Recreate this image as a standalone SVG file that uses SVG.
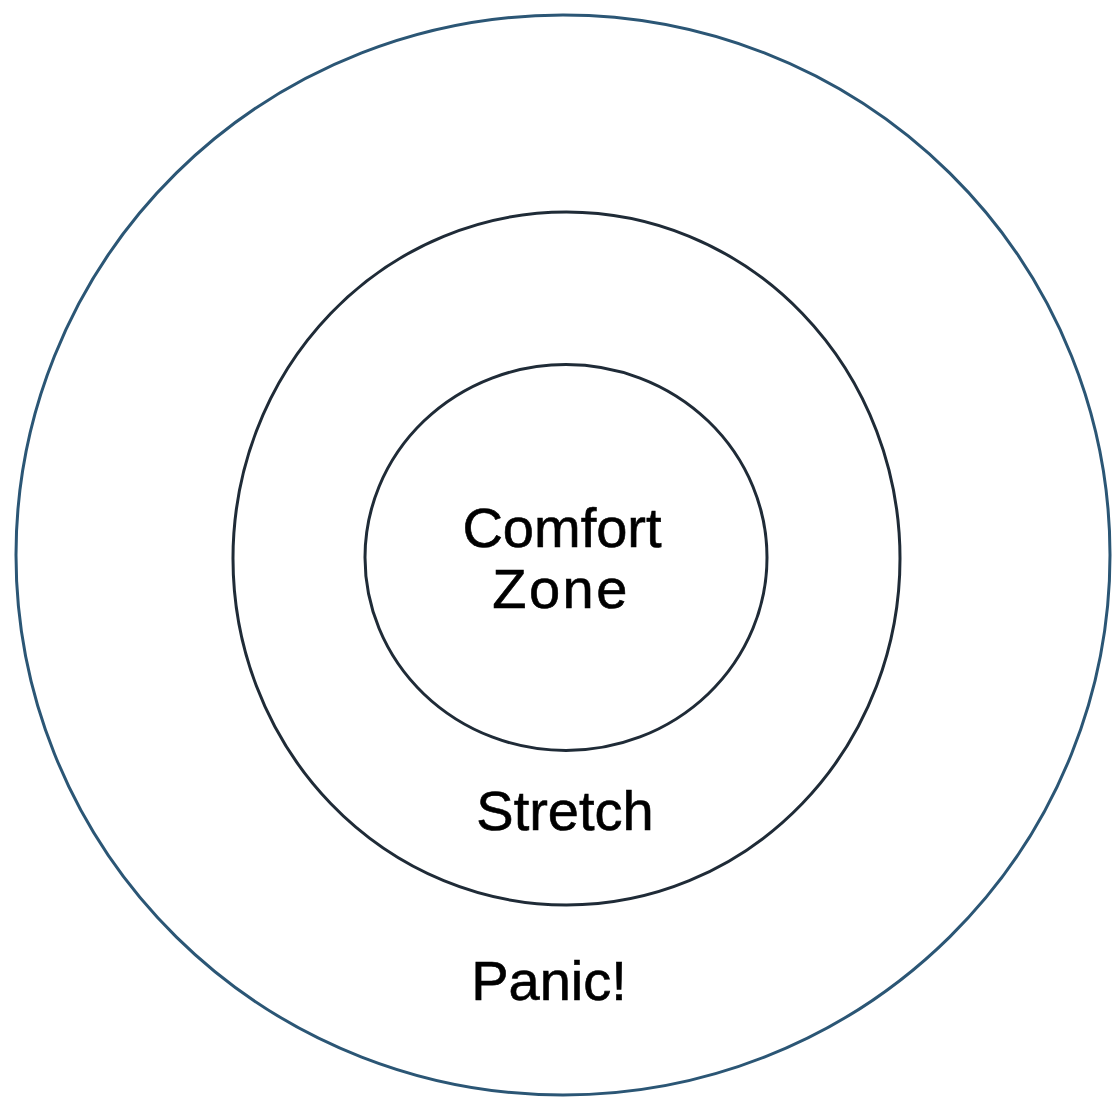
<svg xmlns="http://www.w3.org/2000/svg" width="1112" height="1099" viewBox="0 0 1112 1099">
<style>
.ring{fill:none;stroke-width:3}
.outer{stroke:#2b5675}
.dark{stroke:#1f2b37}
text{font-family:"Liberation Sans",Arial,sans-serif;font-size:56px;fill:#000;stroke:#000;stroke-width:0.6;text-anchor:middle}
</style>
<rect width="1112" height="1099" fill="#ffffff"/>
<g id="panic">
<ellipse class="ring outer" cx="563" cy="555" rx="547" ry="540"/>
<text x="549" y="1000">Panic!</text>
</g>
<g id="stretch">
<ellipse class="ring dark" cx="566.5" cy="558.5" rx="333.5" ry="346.5"/>
<text x="565" y="830">Stretch</text>
</g>
<g id="comfort">
<ellipse class="ring dark" cx="566" cy="557.5" rx="201" ry="193"/>
<text x="562" y="547">Comfort</text>
<text x="561" y="608" letter-spacing="2.5">Zone</text>
</g>
<g id="connectors"/>
</svg>
